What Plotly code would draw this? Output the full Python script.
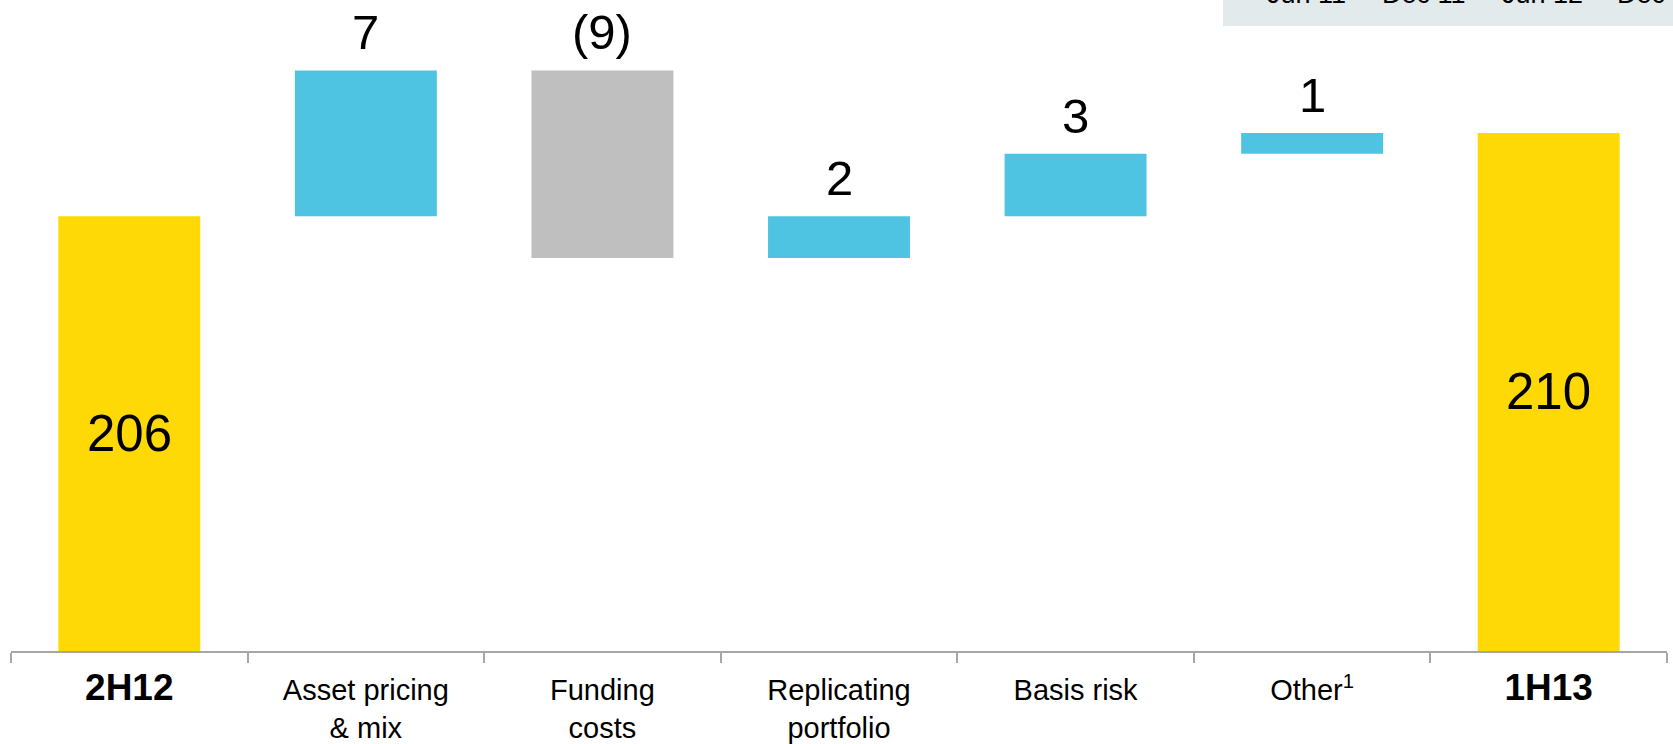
import numpy as np
import plotly.graph_objects as go

# ---- data ----
categories = ["2H12", "Asset pricing & mix", "Funding costs", "Replicating portfolio",
              "Basis risk", "Other", "1H13"]
values = [206, 7, -9, 2, 3, 1, 210]
measures = ["absolute", "relative", "relative", "relative", "relative", "relative", "total"]
value_labels = ["206", "7", "(9)", "2", "3", "1", "210"]
tick_labels = ["<b><span style='font-size:37px'>2H12</span></b>",
               "Asset pricing<br>& mix", "Funding<br>costs", "Replicating<br>portfolio",
               "Basis risk", "Other<sup>1</sup>",
               "<b><span style='font-size:37px'>1H13</span></b>"]
period_labels = ["Jun 11", "Dec 11", "Jun 12", "Dec 12"]

# ---- styles ----
YELLOW = "#FED905"
CYAN = "#4FC4E2"
GREY = "#BFBFBF"
BOX = "#E2EAEC"
AXIS = "#A6A6A6"
FONT = "Liberation Sans, Arial, sans-serif"

Y_MIN, Y_MAX = 185.14, 216.38
W, H = 1673, 744
ML, MR, MT, MB = 11, 6, 0, 91

fig = go.Figure(go.Waterfall(
    x=categories, y=values, measure=measures,
    width=0.6,
    increasing=dict(marker=dict(color=CYAN, line=dict(width=0))),
    decreasing=dict(marker=dict(color=GREY, line=dict(width=0))),
    totals=dict(marker=dict(color=YELLOW, line=dict(width=0))),
    connector=dict(visible=False),
    hoverinfo="skip",
))

# label positions derived from data
annotations = []
cum = 0.0
for cat, v, m, lab in zip(categories, values, measures, value_labels):
    if m in ("absolute", "total"):
        if m == "absolute":
            cum = v
        annotations.append(dict(x=cat, y=(Y_MIN + cum) / 2, text=lab, showarrow=False,
                                xref="x", yref="y", yanchor="middle",
                                font=dict(size=51, color="black", family=FONT)))
    else:
        top = max(cum, cum + v)
        cum += v
        annotations.append(dict(x=cat, y=top, text=lab, showarrow=False,
                                xref="x", yref="y", yanchor="bottom", yshift=9,
                                font=dict(size=49, color="black", family=FONT)))

# partially visible header box (top-right)
pw = W - ML - MR
ph = H - MT - MB
def px_to_paper_x(px):
    return (px - ML) / pw
def px_to_paper_y(py):
    return (H - MB - py) / ph

fig.add_shape(type="rect", xref="paper", yref="paper",
              x0=px_to_paper_x(1223), x1=px_to_paper_x(1680),
              y0=px_to_paper_y(26), y1=px_to_paper_y(-10),
              fillcolor=BOX, line=dict(width=0), layer="below")
centers = [1306, 1424, 1542, 1660]
for c, t in zip(centers, period_labels):
    annotations.append(dict(x=px_to_paper_x(c), y=px_to_paper_y(11), xref="paper", yref="paper",
                            text=t, showarrow=False, xanchor="center", yanchor="bottom",
                            font=dict(size=27, color="black", family=FONT)))

fig.update_layout(
    width=W, height=H,
    margin=dict(l=ML, r=MR, t=MT, b=MB),
    paper_bgcolor="white", plot_bgcolor="white",
    showlegend=False,
    annotations=annotations,
    font=dict(family=FONT, color="black"),
    xaxis=dict(
        type="category",
        tickmode="array", tickvals=categories, ticktext=tick_labels,
        tickson="boundaries",
        ticks="outside", ticklen=10, tickwidth=1.5, tickcolor=AXIS,
        showline=True, linecolor=AXIS, linewidth=2,
        showgrid=False, zeroline=False,
        tickfont=dict(size=29, color="black", family=FONT),
        ticklabelstandoff=12,
        range=[-0.5, 6.5],
        tickangle=0,
    ),
    yaxis=dict(range=[Y_MIN, Y_MAX], visible=False, showgrid=False, zeroline=False),
)

fig.write_html("out.html")
